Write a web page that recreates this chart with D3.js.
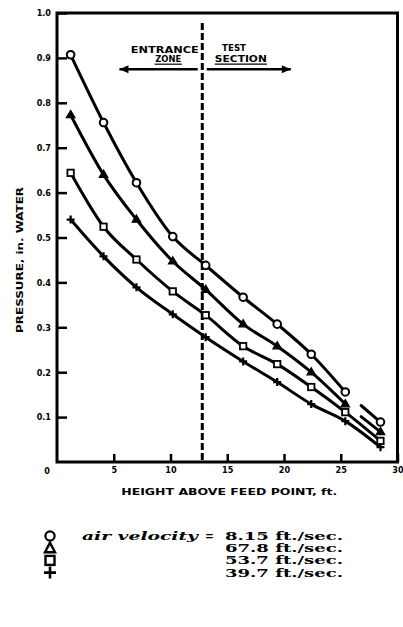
<!DOCTYPE html>
<html>
<head>
<meta charset="utf-8">
<script src="https://cdn.jsdelivr.net/npm/d3@7"></script>
<style>
  html, body { margin: 0; padding: 0; background: #fff; }
  svg { display: block; }
</style>
</head>
<body>
<svg id="chart" width="403" height="627"></svg>
<script>
// ---------- data ----------
const heights = [1.2, 4.1, 7.0, 10.2, 13.1, 16.4, 19.4, 22.4, 25.4, 28.5];
const circleP   = [0.907, 0.756, 0.622, 0.502, 0.438, 0.367, 0.307, 0.240, 0.156, 0.089];
const triangleP = [0.773, 0.640, 0.540, 0.447, 0.384, 0.307, 0.258, 0.200, 0.129, 0.067];
const squareP   = [0.644, 0.524, 0.451, 0.380, 0.327, 0.258, 0.218, 0.167, 0.111, 0.047];
const plusP     = [0.540, 0.458, 0.389, 0.329, 0.278, 0.224, 0.178, 0.129, 0.091, 0.033];
const seriesNames = ["circle", "triangle", "square", "plus"];
const velocities = ["8.15", "67.8", "53.7", "39.7"];
const xTicks = [5, 10, 15, 20, 25, 30];
const yTicks = [0.1, 0.2, 0.3, 0.4, 0.5, 0.6, 0.7, 0.8, 0.9, 1.0];
const boundary = 12.8;

const series = [
  { name: "circle",   values: circleP,   gap: true },
  { name: "triangle", values: triangleP, gap: true },
  { name: "square",   values: squareP,   gap: false },
  { name: "plus",     values: plusP,     gap: false }
];

// ---------- layout ----------
const svg = d3.select("#chart");
const x = d3.scaleLinear().domain([0, 30]).range([57, 397.5]);
const y = d3.scaleLinear().domain([0, 1]).range([462, 13]);
const ink = "#000";
const tickFont = "'DejaVu Sans Condensed', 'DejaVu Sans', sans-serif";

// frame
svg.append("rect")
  .attr("x", x(0)).attr("y", y(1))
  .attr("width", x(30) - x(0)).attr("height", y(0) - y(1))
  .attr("fill", "none").attr("stroke", ink).attr("stroke-width", 3);

// y axis
const yAxis = d3.axisLeft(y).tickValues(yTicks).tickFormat(d3.format(".1f"))
  .tickSizeInner(-10).tickSizeOuter(0).tickPadding(6);
const gy = svg.append("g").attr("transform", `translate(${x(0)},0)`).call(yAxis);
gy.select(".domain").remove();
gy.selectAll(".tick line").attr("stroke", ink).attr("stroke-width", 2.5);
gy.selectAll(".tick text").attr("fill", ink)
  .style("font-family", tickFont).style("font-weight", "bold").style("font-size", "9px");

// x axis
const xAxis = d3.axisBottom(x).tickValues(xTicks).tickFormat(d3.format("d"))
  .tickSizeInner(-8).tickSizeOuter(0).tickPadding(5);
const gx = svg.append("g").attr("transform", `translate(0,${y(0)})`).call(xAxis);
gx.select(".domain").remove();
gx.selectAll(".tick line").attr("stroke", ink).attr("stroke-width", 2.5);
gx.selectAll(".tick text").attr("fill", ink)
  .style("font-family", tickFont).style("font-weight", "bold").style("font-size", "9px");

// origin label
svg.append("text").attr("x", x(0) - 10).attr("y", y(0) + 12)
  .attr("text-anchor", "middle").attr("fill", ink)
  .style("font-family", tickFont).style("font-weight", "bold").style("font-size", "9px")
  .text("0");

// axis titles
svg.append("text")
  .attr("x", (x(0) + x(30)) / 2 + 2).attr("y", y(0) + 33)
  .attr("text-anchor", "middle").attr("fill", ink)
  .attr("textLength", 216).attr("lengthAdjust", "spacingAndGlyphs")
  .style("font-family", tickFont).style("font-weight", "bold").style("font-size", "8.5px")
  .text("HEIGHT ABOVE FEED POINT, ft.");

svg.append("text")
  .attr("transform", `translate(23,${y(0.45)}) rotate(-90)`)
  .attr("text-anchor", "middle").attr("fill", ink)
  .attr("textLength", 146).attr("lengthAdjust", "spacingAndGlyphs")
  .style("font-family", tickFont).style("font-weight", "bold").style("font-size", "8.5px")
  .text("PRESSURE, in. WATER");

// dashed boundary
svg.append("line")
  .attr("x1", x(boundary)).attr("x2", x(boundary))
  .attr("y1", y(0.978)).attr("y2", y(0))
  .attr("stroke", ink).attr("stroke-width", 3).attr("stroke-dasharray", "7,3");

// zone annotations
function label(txt, xv, yv, len) {
  svg.append("text").attr("x", x(xv)).attr("y", y(yv))
    .attr("text-anchor", "middle").attr("fill", ink)
    .attr("textLength", len).attr("lengthAdjust", "spacingAndGlyphs")
    .style("font-family", tickFont).style("font-weight", "900").style("font-size", "9px")
    .text(txt);
}
label("ENTRANCE", 9.5, 0.912, 68);
label("ZONE", 9.8, 0.890, 26);
label("TEST", 15.6, 0.916, 24);
label("SECTION", 16.2, 0.890, 52);

// underline of ZONE / SECTION
svg.append("line").attr("x1", x(8.6)).attr("x2", x(11.0))
  .attr("y1", y(0.886)).attr("y2", y(0.886)).attr("stroke", ink).attr("stroke-width", 1.2);
svg.append("line").attr("x1", x(13.9)).attr("x2", x(18.5))
  .attr("y1", y(0.886)).attr("y2", y(0.886)).attr("stroke", ink).attr("stroke-width", 1.2);

// arrows
const arrowY = y(0.875);
function arrow(x1, x2) {
  svg.append("line").attr("x1", x(x1)).attr("x2", x(x2))
    .attr("y1", arrowY).attr("y2", arrowY).attr("stroke", ink).attr("stroke-width", 2.5);
  const dir = Math.sign(x(x2) - x(x1));
  const tip = x(x2);
  svg.append("path")
    .attr("d", `M${tip},${arrowY} L${tip - dir * 9},${arrowY - 4} L${tip - dir * 9},${arrowY + 4} Z`)
    .attr("fill", ink);
}
arrow(boundary - 0.4, 5.5);
arrow(boundary + 0.4, 20.6);

// curves
const line = d3.line().x(d => x(d[0])).y(d => y(d[1])).curve(d3.curveMonotoneX);
function drawMarker(g, kind, cx, cy, scale) {
  if (kind === "circle") {
    g.append("circle").attr("cx", cx).attr("cy", cy).attr("r", 3.8 * scale)
      .attr("fill", "#fff").attr("stroke", ink).attr("stroke-width", 2 * scale);
  } else if (kind === "triangle") {
    const r = 4.5 * scale;
    g.append("path")
      .attr("d", `M${cx},${cy - r} L${cx + r * 0.95},${cy + r * 0.6} L${cx - r * 0.95},${cy + r * 0.6} Z`)
      .attr("fill", ink).attr("stroke", ink).attr("stroke-width", 1.2 * scale);
  } else if (kind === "square") {
    const r = 3.2 * scale;
    g.append("rect").attr("x", cx - r).attr("y", cy - r).attr("width", 2 * r).attr("height", 2 * r)
      .attr("fill", "#fff").attr("stroke", ink).attr("stroke-width", 1.8 * scale);
  } else {
    const r = 4 * scale;
    g.append("path").attr("d", `M${cx - r},${cy} H${cx + r} M${cx},${cy - r} V${cy + r}`)
      .attr("stroke", ink).attr("stroke-width", 2.2 * scale);
  }
}
series.forEach(s => {
  const pts = heights.map((h, i) => [h, s.values[i]]);
  const n = pts.length;
  if (s.gap) {
    svg.append("path").attr("d", line(pts.slice(0, n - 1)))
      .attr("fill", "none").attr("stroke", ink).attr("stroke-width", 3).attr("stroke-linecap", "round");
    const a = pts[n - 2], b = pts[n - 1];
    const t = 0.45;
    const start = [a[0] + (b[0] - a[0]) * t, a[1] + (b[1] - a[1]) * t];
    svg.append("path").attr("d", d3.line().x(d => x(d[0])).y(d => y(d[1]))([start, b]))
      .attr("fill", "none").attr("stroke", ink).attr("stroke-width", 3).attr("stroke-linecap", "round");
  } else {
    svg.append("path").attr("d", line(pts))
      .attr("fill", "none").attr("stroke", ink).attr("stroke-width", 3).attr("stroke-linecap", "round");
  }
  const g = svg.append("g");
  pts.forEach(p => drawMarker(g, s.name, x(p[0]), y(p[1]), 1));
});

// legend
const legend = svg.append("g");
const legY0 = 540, legDy = 12.2;
const serif = "'DejaVu Serif', 'Liberation Serif', serif";
const legSize = "10.5px";
seriesNames.forEach((name, i) => {
  const cy = legY0 - 4 + i * legDy;
  if (name === "circle") {
    legend.append("circle").attr("cx", 50).attr("cy", cy).attr("r", 4.6)
      .attr("fill", "none").attr("stroke", ink).attr("stroke-width", 2.2);
  } else if (name === "triangle") {
    legend.append("path").attr("d", `M50,${cy - 5.5} L55,${cy + 4} L45,${cy + 4} Z`)
      .attr("fill", "none").attr("stroke", ink).attr("stroke-width", 2.4);
  } else if (name === "square") {
    legend.append("rect").attr("x", 45.5).attr("y", cy - 4.5).attr("width", 9).attr("height", 9)
      .attr("fill", "none").attr("stroke", ink).attr("stroke-width", 2.4);
  } else {
    legend.append("path").attr("d", `M44,${cy} H56 M50,${cy - 6} V${cy + 6}`)
      .attr("stroke", ink).attr("stroke-width", 2.6);
  }
  legend.append("text").attr("x", 343).attr("y", legY0 + i * legDy)
    .attr("text-anchor", "end").attr("fill", ink)
    .attr("textLength", 118).attr("lengthAdjust", "spacingAndGlyphs")
    .style("font-family", serif).style("font-weight", "bold").style("font-size", legSize)
    .text(`${velocities[i]} ft./sec.`);
});
legend.append("text").attr("x", 82).attr("y", legY0)
  .attr("fill", ink)
  .attr("textLength", 116).attr("lengthAdjust", "spacingAndGlyphs")
  .style("font-family", serif).style("font-weight", "bold").style("font-style", "italic").style("font-size", legSize)
  .text("air velocity");
legend.append("text").attr("x", 205).attr("y", legY0)
  .attr("fill", ink)
  .style("font-family", serif).style("font-weight", "bold").style("font-size", legSize)
  .text("=");
</script>
</body>
</html>
